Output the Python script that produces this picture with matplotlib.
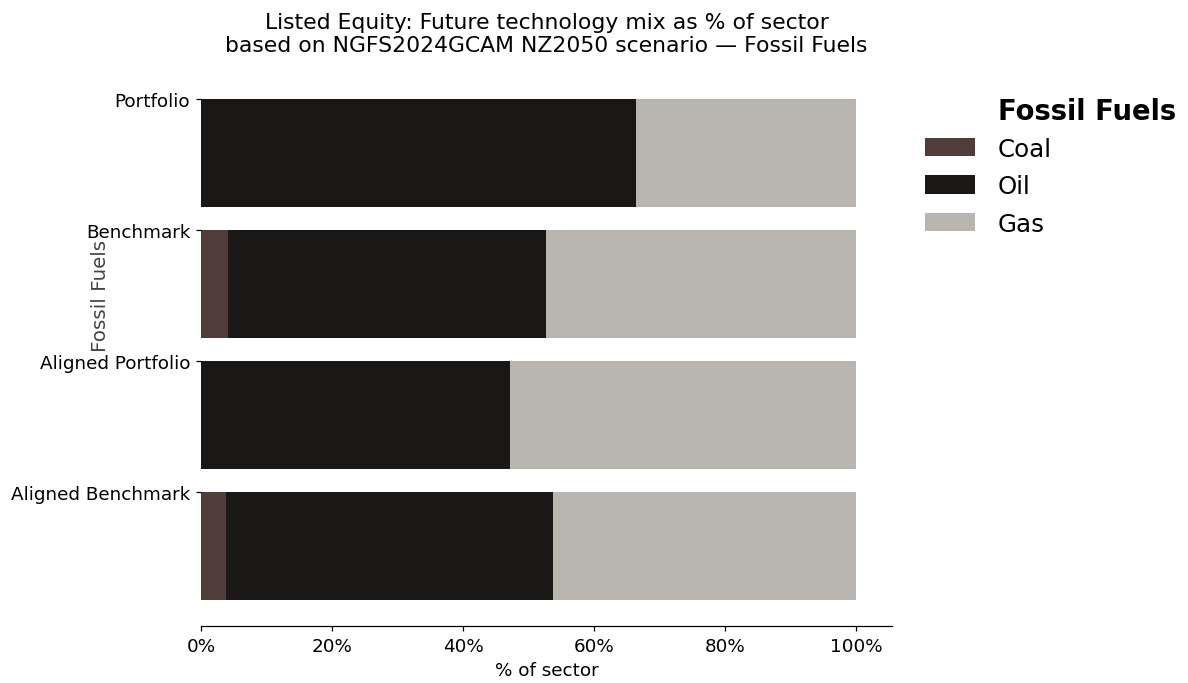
# Future technology mix chart - fossil fuels

import numpy as np
import matplotlib
matplotlib.use("Agg")
import matplotlib.pyplot as plt
from matplotlib.ticker import PercentFormatter

# data (shares of sector, 0-1)
groups = ["Portfolio", "Benchmark", "Aligned Portfolio", "Aligned Benchmark"]
techs = ["Coal", "Oil", "Gas"]
coal = [0.0, 0.041, 0.0, 0.038]
oil = [0.664, 0.486, 0.472, 0.499]
gas = [0.336, 0.473, 0.528, 0.463]
colors = ["#503c39", "#1a1816", "#b9b6b1"]

fig = plt.figure(figsize=(10.8, 6.218), dpi=110)
ax = fig.add_axes([0.1692, 0.0833, 0.5816, 0.8067])

y = np.arange(len(groups))
left = np.zeros(len(groups))
for name, vals, col in zip(techs, [coal, oil, gas], colors):
    ax.barh(y, vals, left=left, height=0.82, align="edge", color=col, label=name)
    left += np.array(vals)

ax.set_ylim(-0.19, 4.02)
ax.invert_yaxis()
ax.set_yticks(y)
ax.set_yticklabels(groups, fontsize=12)
ax.set_xlim(0, 1.055)
ax.set_xticks([0, 0.2, 0.4, 0.6, 0.8, 1.0])
ax.xaxis.set_major_formatter(PercentFormatter(1.0, decimals=0))
ax.tick_params(axis="x", labelsize=12)
ax.set_xlabel("% of sector", fontsize=12)
ax.set_ylabel("Fossil Fuels", fontsize=13, color="#444444")
ax.yaxis.set_label_coords(-0.132, 0.60)

for s in ["top", "right", "left"]:
    ax.spines[s].set_visible(False)

ax.set_title("Listed Equity: Future technology mix as % of sector\n"
             "based on NGFS2024GCAM NZ2050 scenario \u2014 Fossil Fuels",
             fontsize=14.3, pad=15)

# legend title drawn separately so it sits over the labels like the original
fig.text(0.840, 0.836, "Fossil Fuels", fontsize=18, fontweight="bold",
         ha="left", va="center")
leg = fig.legend(loc="upper left", bbox_to_anchor=(0.770, 0.813), frameon=False,
                 fontsize=16, handlelength=2.05, handleheight=0.78,
                 handletextpad=0.94, labelspacing=0.55, borderaxespad=0)

fig.savefig("out.png", dpi=110)
